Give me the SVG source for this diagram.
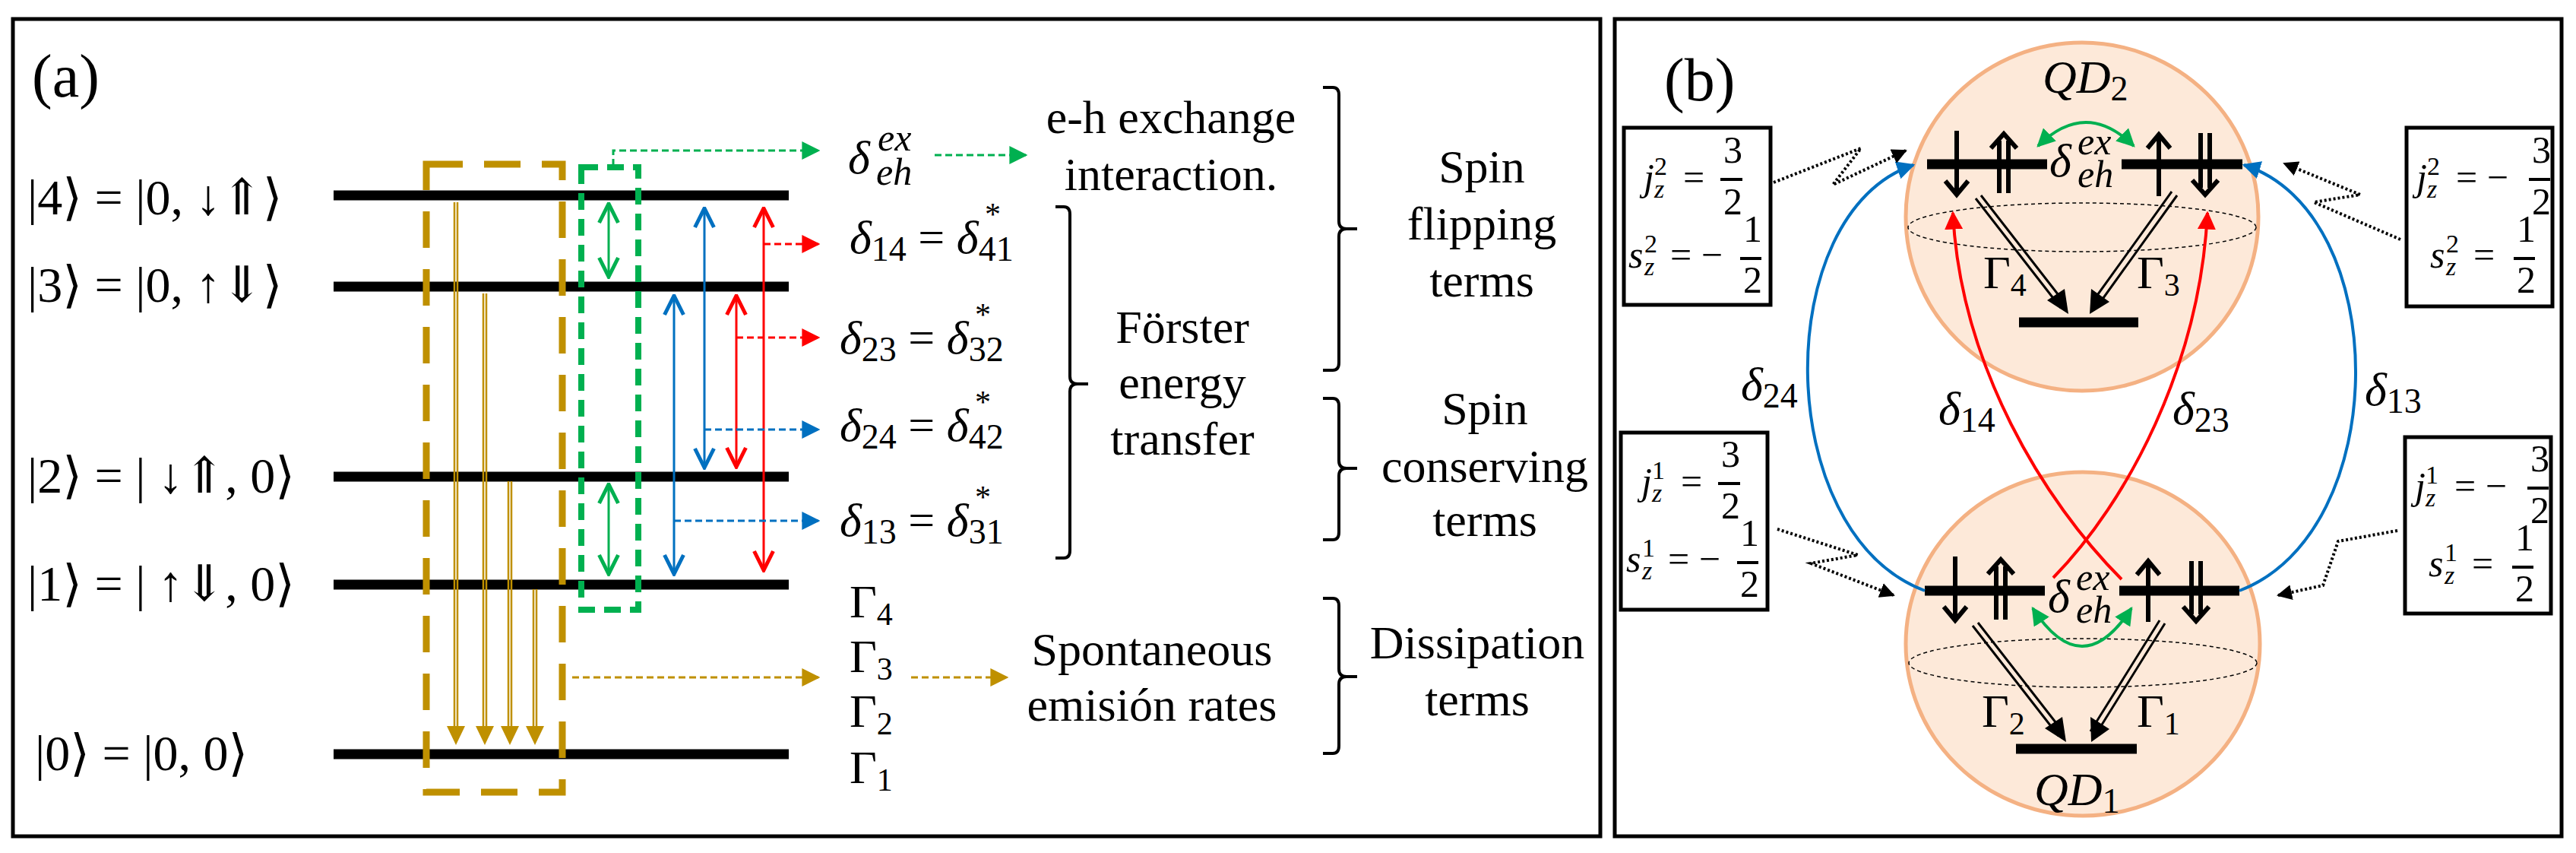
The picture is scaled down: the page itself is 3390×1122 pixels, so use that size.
<svg xmlns="http://www.w3.org/2000/svg" width="3390" height="1122" viewBox="0 0 3390 1122" font-family="Liberation Serif, DejaVu Serif, serif">
<defs>
<style>
text{font-family:'Liberation Serif','DejaVu Serif',serif;fill:#000}
.lv{font-size:66px}
.big{font-size:62px}
.sm{font-size:50px}
.ss{font-size:34px}
.it{font-style:italic}
.lvl{stroke:#000;stroke-width:13}
.frame{fill:none;stroke:#000;stroke-width:5}
.gold{stroke:#bf9000;fill:none}
.grn{stroke:#00b050;fill:none}
.blu{stroke:#0070c0;fill:none}
.red{stroke:#ff0000;fill:none}
.dot{stroke:#000;fill:none;stroke-width:4;stroke-dasharray:3 3}
.brk{stroke:#000;fill:none;stroke-width:4}
</style>
<marker id="hgo" viewBox="0 0 10 10" refX="9" refY="5" markerWidth="24" markerHeight="24" markerUnits="userSpaceOnUse" orient="auto"><path d="M0,0L10,5L0,10z" fill="#bf9000"/></marker>
<marker id="hgr" viewBox="0 0 10 10" refX="9" refY="5" markerWidth="24" markerHeight="24" markerUnits="userSpaceOnUse" orient="auto-start-reverse"><path d="M0,0L10,5L0,10z" fill="#00b050"/></marker>
<marker id="hbl" viewBox="0 0 10 10" refX="9" refY="5" markerWidth="24" markerHeight="24" markerUnits="userSpaceOnUse" orient="auto"><path d="M0,0L10,5L0,10z" fill="#0070c0"/></marker>
<marker id="hrd" viewBox="0 0 10 10" refX="9" refY="5" markerWidth="24" markerHeight="24" markerUnits="userSpaceOnUse" orient="auto"><path d="M0,0L10,5L0,10z" fill="#ff0000"/></marker>
<marker id="hk" viewBox="0 0 10 10" refX="9" refY="5" markerWidth="20" markerHeight="20" markerUnits="userSpaceOnUse" orient="auto"><path d="M0,0L10,5L0,10z" fill="#000"/></marker>
<marker id="ogr" viewBox="0 0 12 12" refX="11" refY="6" markerWidth="30" markerHeight="30" markerUnits="userSpaceOnUse" orient="auto-start-reverse"><path d="M1,1L11,6L1,11" fill="none" stroke="#00b050" stroke-width="2"/></marker>
<marker id="obl" viewBox="0 0 12 12" refX="11" refY="6" markerWidth="30" markerHeight="30" markerUnits="userSpaceOnUse" orient="auto-start-reverse"><path d="M1,1L11,6L1,11" fill="none" stroke="#0070c0" stroke-width="2"/></marker>
<marker id="ord" viewBox="0 0 12 12" refX="11" refY="6" markerWidth="30" markerHeight="30" markerUnits="userSpaceOnUse" orient="auto-start-reverse"><path d="M1,1L11,6L1,11" fill="none" stroke="#ff0000" stroke-width="2"/></marker>
</defs>
<rect width="3390" height="1122" fill="#fff"/>

<g id="panel-a">
<rect class="frame" x="17" y="25" width="2089" height="1075"/>
<text x="42" y="127" style="font-size:80px">(a)</text>
</g>

<g id="levels">
<line class="lvl" x1="439" y1="257" x2="1038" y2="257"/>
<line class="lvl" x1="439" y1="377" x2="1038" y2="377"/>
<line class="lvl" x1="439" y1="627" x2="1038" y2="627"/>
<line class="lvl" x1="439" y1="769" x2="1038" y2="769"/>
<line class="lvl" x1="439" y1="992" x2="1038" y2="992"/>
<text class="lv" x="36" y="282">|4⟩ = |0, ↓⇑⟩</text>
<text class="lv" x="36" y="397">|3⟩ = |0, ↑⇓⟩</text>
<text class="lv" x="36" y="648">|2⟩ = | ↓⇑, 0⟩</text>
<text class="lv" x="36" y="790">|1⟩ = | ↑⇓, 0⟩</text>
<text class="lv" x="46" y="1013">|0⟩ = |0, 0⟩</text>
</g>

<g id="boxes-a">
<rect class="gold" x="561" y="216" width="179" height="826" stroke-width="9" stroke-dasharray="48 28"/>
<rect class="grn" x="765" y="220" width="75" height="582" stroke-width="8" stroke-dasharray="22 12"/>
</g>

<g id="connectors">
<g class="gold" stroke-width="2.5">
<path d="M598,266V965M602,266V965"/>
<path d="M636,386V965M640,386V965"/>
<path d="M669,633V965M673,633V965"/>
<path d="M702,775V965M706,775V965"/>
</g>
<g fill="#bf9000">
<path d="M588,955L612,955L600,980z"/><path d="M626,955L650,955L638,980z"/><path d="M659,955L683,955L671,980z"/><path d="M692,955L716,955L704,980z"/>
</g>
<line class="grn" stroke-width="3" x1="801" y1="268" x2="801" y2="364" marker-start="url(#ogr)" marker-end="url(#ogr)"/>
<line class="grn" stroke-width="3" x1="801" y1="637" x2="801" y2="755" marker-start="url(#ogr)" marker-end="url(#ogr)"/>
<line class="blu" stroke-width="3" x1="927" y1="274" x2="927" y2="615" marker-start="url(#obl)" marker-end="url(#obl)"/>
<line class="blu" stroke-width="3" x1="887" y1="389" x2="887" y2="755" marker-start="url(#obl)" marker-end="url(#obl)"/>
<line class="red" stroke-width="3" x1="1005" y1="274" x2="1005" y2="750" marker-start="url(#ord)" marker-end="url(#ord)"/>
<line class="red" stroke-width="3" x1="969" y1="389" x2="969" y2="614" marker-start="url(#ord)" marker-end="url(#ord)"/>
<path class="grn" stroke-width="3" stroke-dasharray="9 5" d="M807,218V198H1077" marker-end="url(#hgr)"/>
<path class="red" stroke-width="3" stroke-dasharray="9 5" d="M1005,321H1077" marker-end="url(#hrd)"/>
<path class="red" stroke-width="3" stroke-dasharray="9 5" d="M969,444H1077" marker-end="url(#hrd)"/>
<path class="blu" stroke-width="3" stroke-dasharray="9 5" d="M927,565H1077" marker-end="url(#hbl)"/>
<path class="blu" stroke-width="3" stroke-dasharray="9 5" d="M887,685H1077" marker-end="url(#hbl)"/>
<path class="gold" stroke-width="3" stroke-dasharray="9 5" d="M753,891H1077" marker-end="url(#hgo)"/>
<path class="grn" stroke-width="3" stroke-dasharray="9 5" d="M1230,204H1350" marker-end="url(#hgr)"/>
<path class="gold" stroke-width="3" stroke-dasharray="9 5" d="M1199,891H1325" marker-end="url(#hgo)"/>
</g>

<g id="labels-a">
<text x="1116" y="228" class="big it">δ</text><text x="1155" y="198" class="sm it">ex</text><text x="1153" y="243" class="sm it">eh</text>
<text x="1118" y="333" class="big"><tspan class="it">δ</tspan><tspan font-size="46" dy="10">14</tspan><tspan dy="-10"> = </tspan><tspan class="it">δ</tspan><tspan font-size="46" dy="10">41</tspan></text><text x="1296" y="296" font-size="42">*</text>
<text x="1105" y="465" class="big"><tspan class="it">δ</tspan><tspan font-size="46" dy="10">23</tspan><tspan dy="-10"> = </tspan><tspan class="it">δ</tspan><tspan font-size="46" dy="10">32</tspan></text><text x="1283" y="428" font-size="42">*</text>
<text x="1105" y="580" class="big"><tspan class="it">δ</tspan><tspan font-size="46" dy="10">24</tspan><tspan dy="-10"> = </tspan><tspan class="it">δ</tspan><tspan font-size="46" dy="10">42</tspan></text><text x="1283" y="543" font-size="42">*</text>
<text x="1105" y="705" class="big"><tspan class="it">δ</tspan><tspan font-size="46" dy="10">13</tspan><tspan dy="-10"> = </tspan><tspan class="it">δ</tspan><tspan font-size="46" dy="10">31</tspan></text><text x="1283" y="668" font-size="42">*</text>
<text x="1118" y="812" class="big">Γ<tspan font-size="42" dy="10">4</tspan></text>
<text x="1118" y="884" class="big">Γ<tspan font-size="42" dy="10">3</tspan></text>
<text x="1118" y="956" class="big">Γ<tspan font-size="42" dy="10">2</tspan></text>
<text x="1118" y="1030" class="big">Γ<tspan font-size="42" dy="10">1</tspan></text>
<g class="big" text-anchor="middle">
<text x="1541" y="175">e-h exchange</text><text x="1541" y="250">interaction.</text>
<text x="1556" y="451">Förster</text><text x="1556" y="524">energy</text><text x="1556" y="598">transfer</text>
<text x="1516" y="875">Spontaneous</text><text x="1516" y="948">emisión rates</text>
<text x="1950" y="240">Spin</text><text x="1950" y="315">flipping</text><text x="1950" y="390">terms</text>
<text x="1954" y="558">Spin</text><text x="1954" y="634">conserving</text><text x="1954" y="705">terms</text>
<text x="1944" y="866">Dissipation</text><text x="1944" y="941">terms</text>
</g>
<path class="brk" d="M1389,272H1400Q1408,272 1408,282V495Q1408,505 1418,505H1432M1418,505Q1408,505 1408,515V724Q1408,734 1400,734H1389"/>
<path class="brk" d="M1741,115H1754Q1762,115 1762,125V291Q1762,301 1772,301H1786M1772,301Q1762,301 1762,311V477Q1762,487 1754,487H1741"/>
<path class="brk" d="M1741,524H1754Q1762,524 1762,534V606Q1762,616 1772,616H1786M1772,616Q1762,616 1762,626V700Q1762,710 1754,710H1741"/>
<path class="brk" d="M1741,787H1754Q1762,787 1762,797V880Q1762,890 1772,890H1786M1772,890Q1762,890 1762,900V981Q1762,991 1754,991H1741"/>
</g>

<g id="panel-b">
<rect class="frame" x="2125" y="25" width="1246" height="1075"/>
<text x="2190" y="132" style="font-size:80px">(b)</text>
</g>

<g id="qd2">
<ellipse cx="2740" cy="285" rx="232" ry="229" fill="#fde9d9" stroke="#f4b183" stroke-width="5"/>
<ellipse cx="2740" cy="299" rx="229" ry="32" fill="none" stroke="#000" stroke-width="1.5" stroke-dasharray="5 4"/>
<line class="lvl" stroke-width="10" x1="2536" y1="216" x2="2694" y2="216"/>
<line class="lvl" stroke-width="10" x1="2792" y1="216" x2="2951" y2="216"/>
<line class="lvl" stroke-width="11" x1="2657" y1="424" x2="2814" y2="424"/>
<g stroke="#000" stroke-width="6" fill="none">
<path d="M2575,172V256M2560,238L2575,256L2590,238"/>
<path d="M2631,254V185M2643,254V185M2620,195L2637,176L2654,195"/>
<path d="M2841,258V177M2826,195L2841,177L2856,195"/>
<path d="M2896,175V247M2908,175V247M2885,237L2902,256L2919,237"/>
</g>
<text x="2688" y="122" class="big it">QD<tspan font-size="46" font-style="normal" dy="10">2</tspan></text>
<text x="2697" y="232" class="big it">δ</text><text x="2734" y="203" class="sm it">ex</text><text x="2734" y="246" class="sm it">eh</text>
<text x="2610" y="379" class="big">Γ<tspan font-size="42" dy="10">4</tspan></text>
<text x="2812" y="379" class="big">Γ<tspan font-size="42" dy="10">3</tspan></text>
</g>

<g id="qd1">
<ellipse cx="2741" cy="847" rx="233" ry="226" fill="#fde9d9" stroke="#f4b183" stroke-width="5"/>
<ellipse cx="2741" cy="872" rx="229" ry="32" fill="none" stroke="#000" stroke-width="1.5" stroke-dasharray="5 4"/>
<line class="lvl" stroke-width="10" x1="2533" y1="777" x2="2691" y2="777"/>
<line class="lvl" stroke-width="10" x1="2789" y1="777" x2="2947" y2="777"/>
<line class="lvl" stroke-width="11" x1="2653" y1="985" x2="2812" y2="985"/>
<g stroke="#000" stroke-width="6" fill="none">
<path d="M2573,732V816M2558,798L2573,816L2588,798"/>
<path d="M2627,815V745M2639,815V745M2616,755L2633,736L2650,755"/>
<path d="M2827,818V738M2812,756L2827,738L2842,756"/>
<path d="M2884,738V808M2896,738V808M2873,798L2890,817L2907,798"/>
</g>
<text x="2677" y="1059" class="big it">QD<tspan font-size="46" font-style="normal" dy="10">1</tspan></text>
<text x="2695" y="805" class="big it">δ</text><text x="2732" y="776" class="sm it">ex</text><text x="2732" y="819" class="sm it">eh</text>
<text x="2608" y="956" class="big">Γ<tspan font-size="42" dy="10">2</tspan></text>
<text x="2812" y="956" class="big">Γ<tspan font-size="42" dy="10">1</tspan></text>
</g>

<g id="spin-boxes">
<rect class="frame" x="2137" y="168" width="193" height="233"/>
<rect class="frame" x="3167" y="168" width="192" height="235"/>
<rect class="frame" x="2133" y="569" width="193" height="233"/>
<rect class="frame" x="3165" y="575" width="192" height="232"/>
<g class="sm">
<text x="2163" y="250" class="it">j</text><text x="2177" y="260" class="ss it">z</text><text x="2177" y="230" class="ss">2</text>
<text x="2215" y="250">=</text>
<text x="2268" y="214">3</text><line x1="2264" y1="236" x2="2293" y2="236" stroke="#000" stroke-width="4"/><text x="2268" y="282">2</text>
<text x="2143" y="352" class="it">s</text><text x="2164" y="362" class="ss it">z</text><text x="2164" y="332" class="ss">2</text>
<text x="2198" y="352">= −</text>
<text x="2294" y="318">1</text><line x1="2290" y1="340" x2="2318" y2="340" stroke="#000" stroke-width="4"/><text x="2294" y="385">2</text>

<text x="3180" y="250" class="it">j</text><text x="3194" y="260" class="ss it">z</text><text x="3194" y="230" class="ss">2</text>
<text x="3232" y="250">= −</text>
<text x="3332" y="214">3</text><line x1="3328" y1="236" x2="3356" y2="236" stroke="#000" stroke-width="4"/><text x="3332" y="282">2</text>
<text x="3198" y="352" class="it">s</text><text x="3219" y="362" class="ss it">z</text><text x="3219" y="332" class="ss">2</text>
<text x="3255" y="352">=</text>
<text x="3312" y="318">1</text><line x1="3308" y1="340" x2="3336" y2="340" stroke="#000" stroke-width="4"/><text x="3312" y="385">2</text>

<text x="2160" y="650" class="it">j</text><text x="2174" y="660" class="ss it">z</text><text x="2174" y="630" class="ss">1</text>
<text x="2212" y="650">=</text>
<text x="2265" y="614">3</text><line x1="2261" y1="636" x2="2290" y2="636" stroke="#000" stroke-width="4"/><text x="2265" y="682">2</text>
<text x="2140" y="752" class="it">s</text><text x="2161" y="762" class="ss it">z</text><text x="2161" y="732" class="ss">1</text>
<text x="2195" y="752">= −</text>
<text x="2290" y="718">1</text><line x1="2286" y1="740" x2="2314" y2="740" stroke="#000" stroke-width="4"/><text x="2290" y="785">2</text>

<text x="3178" y="656" class="it">j</text><text x="3192" y="666" class="ss it">z</text><text x="3192" y="636" class="ss">1</text>
<text x="3230" y="656">= −</text>
<text x="3330" y="620">3</text><line x1="3326" y1="642" x2="3354" y2="642" stroke="#000" stroke-width="4"/><text x="3330" y="688">2</text>
<text x="3196" y="758" class="it">s</text><text x="3217" y="768" class="ss it">z</text><text x="3217" y="738" class="ss">1</text>
<text x="3253" y="758">=</text>
<text x="3310" y="724">1</text><line x1="3306" y1="746" x2="3334" y2="746" stroke="#000" stroke-width="4"/><text x="3310" y="791">2</text>
</g>
</g>

<g id="connectors-b">
<path class="blu" stroke-width="4" d="M2533,777C2330,700 2330,280 2518,217" marker-end="url(#hbl)"/>
<path class="blu" stroke-width="4" d="M2947,777C3150,700 3150,280 2953,217" marker-end="url(#hbl)"/>
<path class="red" stroke-width="4" d="M2702,760C2800,660 2895,480 2905,280" marker-end="url(#hrd)"/>
<path class="red" stroke-width="4" d="M2792,762C2690,660 2580,480 2570,280" marker-end="url(#hrd)"/>
<path class="grn" stroke-width="4" d="M2682,192Q2745,130 2808,192" marker-start="url(#hgr)" marker-end="url(#hgr)"/>
<path class="grn" stroke-width="4" d="M2675,800Q2740,900 2805,800" marker-start="url(#hgr)" marker-end="url(#hgr)"/>
<g stroke="#000" stroke-width="3" fill="none">
<path d="M2600,261L2712,405M2607,257L2719,401"/>
<path d="M2865,257L2760,403M2858,252L2753,398"/>
<path d="M2596,823L2709,968M2603,819L2716,964"/>
<path d="M2849,820L2758,966M2842,816L2751,962"/>
</g>
<path d="M2722,413L2694,395L2717,380z" fill="#000"/>
<path d="M2750,413L2752,380L2776,397z" fill="#000"/>
<path d="M2719,976L2691,958L2714,943z" fill="#000"/>
<path d="M2752,976L2751,943L2776,959z" fill="#000"/>
<path class="dot" d="M2334,240L2449,195L2412,243L2508,198" marker-end="url(#hk)"/>
<path class="dot" d="M3159,315L3045,266L3106,256L3006,215" marker-end="url(#hk)"/>
<path class="dot" d="M2339,696L2445,730L2383,741L2492,783" marker-end="url(#hk)"/>
<path class="dot" d="M3155,698L3077,712L3057,770L2998,783" marker-end="url(#hk)"/>
<text x="2291" y="526" class="big"><tspan class="it">δ</tspan><tspan font-size="46" dy="10">24</tspan></text>
<text x="2551" y="558" class="big"><tspan class="it">δ</tspan><tspan font-size="46" dy="10">14</tspan></text>
<text x="2859" y="558" class="big"><tspan class="it">δ</tspan><tspan font-size="46" dy="10">23</tspan></text>
<text x="3112" y="533" class="big"><tspan class="it">δ</tspan><tspan font-size="46" dy="10">13</tspan></text>
</g>
</svg>
